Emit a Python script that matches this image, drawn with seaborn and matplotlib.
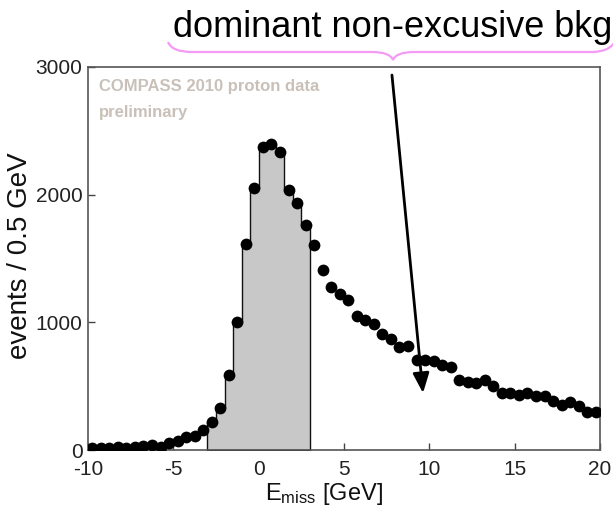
import numpy as np
import pandas as pd
import matplotlib
matplotlib.use("Agg")
import matplotlib.pyplot as plt
from matplotlib.path import Path
from matplotlib.patches import PathPatch
import seaborn as sns

# ---------------- data ----------------
bin_width = 0.5
e_centers = np.arange(-9.75, 20.0, bin_width)
counts = [13, 13, 13, 26, 18, 26, 31, 39, 26, 52, 73, 99, 112, 156, 216, 326, 586, 1002,
          1615, 2052, 2370, 2396, 2331, 2039, 1935, 1766,
          1609, 1411, 1276, 1219, 1172, 1047, 1021, 990, 911, 867,
          807, 812, 703, 703, 698, 664, 651, 552, 534, 521,
          552, 500, 448, 443, 430, 450, 424, 422, 383, 352,
          375, 346, 300, 300]
signal_range = (-3.0, 3.0)
x_ticks = [-10, -5, 0, 5, 10, 15, 20]
y_ticks = [0, 1000, 2000, 3000]
x_lim = (-10, 20)
y_lim = (0, 3000)
title_text = "dominant non-excusive bkg"
label_lines = ["COMPASS 2010 proton data", "preliminary"]

df = pd.DataFrame({"E": e_centers, "n": counts})
sig = df[(df.E > signal_range[0]) & (df.E < signal_range[1])].reset_index(drop=True)
sig_edges = [float(v) for v in np.arange(signal_range[0], signal_range[1] + bin_width / 2, bin_width)]

# ---------------- style ----------------
sns.set_style("white")
plt.rcParams["font.family"] = ["Liberation Sans", "DejaVu Sans"]
plt.rcParams["mathtext.fontset"] = "custom"
plt.rcParams["mathtext.rm"] = "Liberation Sans"
plt.rcParams["axes.unicode_minus"] = False

W, H = 613, 513
fig = plt.figure(figsize=(W / 100, H / 100), dpi=100)
ax = fig.add_axes([88 / W, 1 - 450 / H, 512 / W, 383 / H])

sns.histplot(x=sig["E"].to_numpy(), weights=sig["n"].to_numpy(), bins=sig_edges,
             element="step", fill=True, color="#c8c8c8", alpha=1,
             edgecolor="#111111", linewidth=1.0, ax=ax, zorder=1)
sns.scatterplot(data=df, x="E", y="n", color="black", s=72, linewidth=0,
                ax=ax, zorder=3)

ax.set_xlim(*x_lim)
ax.set_ylim(*y_lim)
ax.set_xticks(x_ticks)
ax.set_yticks(y_ticks)
ax.tick_params(axis="both", direction="in", length=5, width=1, color="#444444",
               labelsize=15, labelcolor="#222222", bottom=True, left=True,
               top=False, right=False)
ax.tick_params(axis="x", pad=7)
ax.tick_params(axis="y", pad=4)
for sp in ax.spines.values():
    sp.set_visible(True)
    sp.set_color("#555555")
    sp.set_linewidth(1.2)

ax.set_xlabel(r"$\mathregular{E_{miss}}$ [GeV]", fontsize=17, color="#111111")
ax.xaxis.set_label_coords((324 - 88) / 512, -(494 - 450) / 383)
ax.xaxis.label.set_va("center")
ax.set_ylabel("events / 0.5 GeV", fontsize=20, color="#111111")
ax.yaxis.set_label_coords(-(88 - 20) / 512, (450 - 256) / 383)
ax.yaxis.label.set_va("center")

ax.text(0.022, 0.95, label_lines[0], transform=ax.transAxes, fontsize=12,
        fontweight="bold", color="#c9c1b9", va="center", ha="left")
ax.text(0.022, 0.88, label_lines[1], transform=ax.transAxes, fontsize=12,
        fontweight="bold", color="#c9c1b9", va="center", ha="left")

# arrow
ax.annotate("", xy=(9.63, 446), xytext=(7.81, 2937),
            arrowprops=dict(arrowstyle="-|>,head_length=0.8,head_width=0.33",
                            lw=2, color="black", shrinkA=0, shrinkB=0,
                            mutation_scale=15), zorder=4)

# top annotation text
fig.text(173 / W, 1 - 37 / H, title_text, fontsize=26, color="black",
         ha="left", va="baseline")

# pink brace
def P(x, y):
    return (x / W, 1 - y / H)

verts = [P(168, 42), P(172, 52), P(192, 52), P(372, 52), P(390, 52), P(393, 60),
         P(396, 52), P(414, 52), P(592, 52), P(610, 52), P(616, 40)]
codes = [Path.MOVETO, Path.CURVE3, Path.CURVE3, Path.LINETO, Path.CURVE3, Path.CURVE3,
         Path.CURVE3, Path.CURVE3, Path.LINETO, Path.CURVE3, Path.CURVE3]
brace = PathPatch(Path(verts, codes), transform=fig.transFigure, fill=False,
                  edgecolor="#f59af5", lw=1.6)
fig.patches.append(brace)

fig.savefig("out.png", dpi=100)
